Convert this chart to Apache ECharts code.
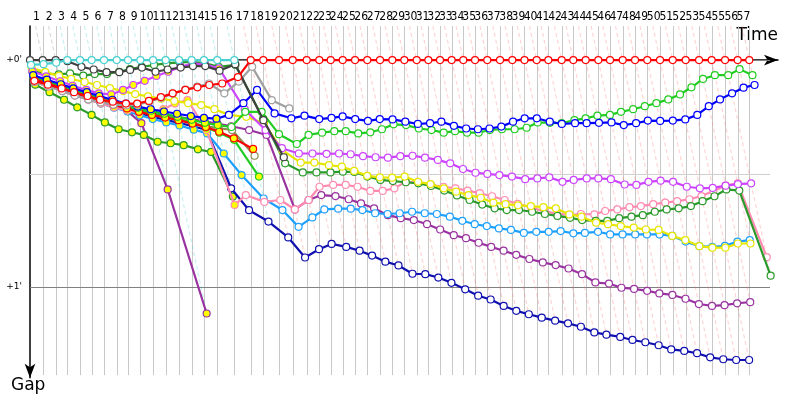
<!DOCTYPE html>
<html><head><meta charset="utf-8">
<script src="https://cdn.jsdelivr.net/npm/echarts@6/dist/echarts.min.js"></script>
<style>html,body{margin:0;padding:0;background:#fff}#c{width:800px;height:400px}</style>
</head><body><div id="c"></div>
<script>
// leader's race time (s) at the end of each lap (lap 0 = start)
const leaderTime = [0,15.9,32.1,46.6,62.5,77.1,92.5,108.4,122.5,137.9,153.8,169.6,186.3,202.1,217.5,234.1,255.4,275.9,291.6,311.3,328.4,345.9,361.6,375.9,390.9,406.3,421.6,437.5,452.9,467.9,483.4,497.9,512.5,527.1,541.6,556.3,571.6,587.5,602.9,618.1,633.4,647.9,664.6,679.1,694.6,710.4,725.0,740.9,756.3,771.6,787.5,803.4,819.6,836.3,852.1,868.8,884.6,899.1];
const lapLabels = leaderTime.slice(1).map((t, i) => String(i + 1));
const gapTicks = [0, 60];
const gapTickLabels = ["+0'", "+1'"];

// gaps to the leader (s), per lap from lap 0
const blackGaps = [0,0,0,0.3,1.8,2.5,3.2,3.2,2.6,2.0,3.1,2.5,2.0,1.6,1.6,2.8,1.1,15.9,25.7];
const cyanGaps = [1.3,1.1,0.7,0,0,0,0,0,0,0,0,0,0,0,0,0,0];
const redGaps = [5.5,6.5,7.5,8.5,9.5,10.5,11,11.5,11.5,10.8,9.8,8.8,7.9,7.2,6.6,6.2,4.5,0,0,0,0,0,0,0,0,0,0,0,0,0,0,0,0,0,0,0,0,0,0,0,0,0,0,0,0,0,0,0,0,0,0,0,0,0,0,0,0,0];
const greenGaps = [3.0,3.6,3.8,3.5,4.1,3.7,3.7,3.1,2.4,1.8,1.3,0.9,0.6,0.5,0.8,1.8,1.3,15.5,27.3,29.7,29.7,29.7,29.5,29.6,30.8,31.7,32.0,32.3,32.6,33.3,34.5,35.8,37.0,38.2,39.2,39.65,39.65,40.1,40.7,41.2,41.7,42.3,42.5,42.5,41.8,41.4,41.0,40.1,39.5,39.2,38.6,37.3,36.0,34.2,34.5,57.0];
const limeGaps = [4.2,5.4,6.6,7.8,8.8,9.8,10.8,11.8,12.6,13.4,14.2,15.0,15.8,16.6,17.2,17.7,13.7,13.7,19.6,22.2,19.8,19.2,18.8,18.8,19.4,19.1,18.3,17.0,17.2,18.1,18.5,19.2,18.8,19.2,19.2,18.5,18.3,18.3,17.9,16.5,16.6,16.7,15.9,15.4,14.7,14.5,13.7,13.0,12.2,11.4,10.4,9.1,7.2,5.0,4.0,4.0,2.4,4.0];
const blueGaps = [4.0,5.2,6.4,7.5,8.5,9.5,10.5,11.5,12.3,13.0,13.6,14.2,14.8,15.3,15.5,14.5,11.4,7.9,14.1,15.4,14.7,15.6,15.3,14.9,15.6,16.1,15.6,15.7,16.3,16.9,16.7,16.3,17.4,18.1,18.3,18.1,17.6,16.3,15.4,15.4,16.3,16.9,16.7,16.7,16.6,16.5,17.2,16.7,16.0,16.1,16.0,15.7,14.5,12.2,10.4,8.8,7.3,6.6];
const navyGaps = [5.0,6.3,7.6,8.8,10.0,11.0,12.0,13.0,14.0,15.0,15.8,16.6,17.5,18.5,33.9,39.7,42.7,46.9,52.2,50.0,48.6,49.4,50.4,51.7,53.3,54.3,56.5,56.6,57.5,58.9,60.6,62.3,63.3,65.0,66.3,67.2,68.1,68.9,69.6,70.5,72.0,72.6,73.2,74.0,74.6,75.4,76.5,76.9,77.5,78.6,79.1,79.3,79.3];
const skyGaps = [5.5,6.8,8.0,9.2,10.4,11.5,12.6,13.6,14.6,15.6,16.5,17.3,18.4,19.4,24.7,30.4,36.6,39.65,44.1,41.6,39.5,39.3,39.3,39.65,40.5,40.7,40.5,40.1,40.5,40.7,41.4,42.5,43.4,43.9,44.5,44.9,45.7,45.4,45.4,45.2,45.8,45.7,45.4,46.1,46.1,46.1,46.1,46.1,46.5,48.0,49.2,49.4,49.1,48.0,47.6];
const magentaGaps = [3.0,4.3,5.6,6.8,7.9,8.8,9.1,7.9,6.6,5.5,4.2,3.1,1.8,0.9,1.2,2.2,13.0,18.5,23.3,24.7,24.7,24.8,24.7,24.9,25.4,25.7,25.8,25.4,25.3,25.8,26.4,27.3,28.8,29.8,30.1,30.4,30.8,31.5,31.3,31.0,32.2,31.7,31.3,31.3,31.5,32.9,33.0,32.2,31.9,32.2,33.5,33.9,33.8,33.2,32.8,32.6];
const yellowGaps = [2.1,3.2,4.2,5.0,5.8,6.6,7.4,8.2,9.0,9.6,10.2,10.8,11.4,11.9,13.0,14.5,15.0,16.7,23.8,27.1,27.1,27.8,28.2,29.3,30.6,31.0,31.1,30.8,32.2,32.8,33.9,34.8,35.7,36.4,37.7,38.1,38.4,38.6,38.9,39.2,40.8,41.4,43.0,43.4,43.9,44.3,44.8,44.9,46.5,47.6,49.2,49.6,49.6,48.5,48.5];
const pinkGaps = [5.8,7.0,8.2,9.4,10.5,11.5,12.5,13.3,13.8,13.6,13.0,11.5,10.6,18.5,38.3,35.7,37.5,37.0,39.5,37.0,33.5,33.0,33.0,33.5,34.6,34.6,33.9,32.2,32.4,33.0,33.5,33.9,34.5,35.2,36.0,37.0,38.0,39.0,40.0,40.6,41.0,40.7,40.8,39.9,39.5,38.9,38.6,38.1,37.7,37.3,36.8,35.95,34.6,33.2,32.6,52.1];
const purpleGaps = [5.2,6.5,7.8,9.0,10.0,11.0,11.8,12.5,13.2,13.8,14.4,15.0,15.6,16.2,16.8,17.5,18.5,19.8,39.5,37.0,35.7,35.95,36.8,37.9,39.2,41.0,41.8,42.3,43.4,44.8,46.3,47.1,48.3,49.4,50.4,51.5,52.6,53.5,54.2,55.1,56.6,58.8,59.1,60.2,60.5,61.0,61.7,62.1,63.1,64.5,65.0,64.8,64.3,64.0];
const plumGaps = [5.3,6.6,7.9,9.1,10.2,11.3,12.4,13.5,16.7,34.2,67.0];
const grayGaps = [5.8,7.0,8.2,9.4,10.4,11.2,11.8,12.0,11.8,11.0,10.0,8.9,7.8,7.0,6.2,8.8,5.7,1.8,10.6,12.8];
const redYGaps = [5.0,6.2,7.4,8.6,9.8,10.8,11.8,12.8,13.7,14.5,15.2,15.9,16.8,17.7,18.95,20.7,23.5];
const oliveGaps = [4.8,6.0,7.2,8.4,9.6,10.6,11.6,12.5,13.3,14.1,14.9,15.7,16.6,17.5,18.0,18.5,25.3];
const limeYGaps = [4.5,5.8,7.0,8.2,9.3,10.3,11.3,12.3,13.2,14.0,14.8,15.6,16.6,17.8,19.2,21.1,30.8];
const greenYGaps = [6.5,8.5,10.5,12.5,14.5,16.5,18.3,19.1,19.8,21.6,22.0,22.5,23.6,24.3,36.1];

const cars = [
  {gaps: plumGaps, color: '#9933a0', yellowTo: 99},
  {gaps: greenYGaps, color: '#2a9a2a', yellowTo: 99},
  {gaps: navyGaps, color: '#1010b0', yellowTo: 13},
  {gaps: purpleGaps, color: '#9933a0', yellowTo: 15},
  {gaps: skyGaps, color: '#1ea0ff', yellowTo: 15},
  {gaps: pinkGaps, color: '#ff8cb0', yellowTo: 14},
  {gaps: oliveGaps, color: '#8c8c50', yellowTo: -1},
  {gaps: limeYGaps, color: '#22cc22', yellowTo: 99},
  {gaps: redYGaps, color: '#ff0000', yellowTo: 99},
  {gaps: greenGaps, color: '#2a9a2a', yellowTo: -1},
  {gaps: yellowGaps, color: '#e6e600', yellowTo: -1},
  {gaps: magentaGaps, color: '#cc44ff', yellowTo: 15},
  {gaps: limeGaps, color: '#22cc22', yellowTo: 14},
  {gaps: blueGaps, color: '#0000ff', yellowTo: 14},
  {gaps: grayGaps, color: '#a0a0a0', yellowTo: -1},
  {gaps: blackGaps, color: '#404040', yellowTo: -1},
  {gaps: cyanGaps, color: '#48d0d0', yellowTo: -1},
  {gaps: redGaps, color: '#ff0000', yellowTo: -1}
];

const Y_TOP = -9, Y_BOTTOM = 83.3, X_RIGHT = 925;

// leader and deepest gap per lap (for the equal-lap lines)
const lapLines = [];
for (let n = 1; n < leaderTime.length; n++) {
  let leader = null, maxG = 0;
  cars.forEach(c => {
    if (n < c.gaps.length) {
      const g = c.gaps[n];
      if (g === 0 && !leader) leader = c.color;
      if (g > maxG) maxG = g;
    }
  });
  lapLines.push({leader: leader || '#404040', maxG});
}
const fadeColors = {'#ff0000': 'rgba(255,120,120,0.62)', '#48d0d0': 'rgba(72,208,208,0.6)', '#404040': 'rgba(110,110,110,0.5)'};

const series = [];
series.push({
  type: 'custom', z: 1, silent: true, clip: false,
  data: leaderTime.slice(1).map(t => [t]),
  renderItem: (p, api) => {
    const a = api.coord([api.value(0), Y_TOP]), b = api.coord([api.value(0), Y_BOTTOM]);
    const x = Math.round(a[0]) + 0.5;
    return {type: 'line', shape: {x1: x, y1: a[1], x2: x, y2: b[1]}, style: {stroke: '#c8c8c8', lineWidth: 1}};
  }
});
series.push({
  type: 'custom', z: 1, silent: true, clip: false,
  data: [[0, 0], [30, 1], [60, 0]],
  renderItem: (p, api) => {
    const a = api.coord([0, api.value(0)]), b = api.coord([X_RIGHT, api.value(0)]);
    const y = Math.round(a[1]) + 0.5;
    return {type: 'line', shape: {x1: a[0], y1: y, x2: b[0], y2: y}, style: {stroke: api.value(1) ? '#cfcfcf' : '#808080', lineWidth: 1}};
  }
});
series.push({
  type: 'lines', coordinateSystem: 'cartesian2d', z: 2, silent: true,
  data: lapLines.map((l, i) => ({
    coords: [[leaderTime[i + 1] + Y_TOP, Y_TOP], [leaderTime[i + 1] + l.maxG, l.maxG]],
    lineStyle: {color: fadeColors[l.leader] || 'rgba(150,150,150,0.5)'}
  })),
  lineStyle: {type: [4, 3], width: 1.2}
});
cars.forEach((c, k) => {
  series.push({
    type: 'line', z: 3 + k, symbol: 'circle', symbolSize: 7, showAllSymbol: true,
    lineStyle: {color: c.color, width: 2.2},
    itemStyle: {color: '#fff', borderColor: c.color, borderWidth: 1.2},
    data: c.gaps.map((g, lap) => ({
      value: [leaderTime[lap] + g, g],
      itemStyle: {color: lap <= c.yellowTo ? '#ffff00' : '#ffffff', borderColor: c.color}
    }))
  });
});
series.push({
  type: 'custom', z: 40, silent: true, clip: false,
  data: lapLabels.map((s, i) => [(leaderTime[i] + leaderTime[i + 1]) / 2]),
  renderItem: (p, api) => {
    const a = api.coord([api.value(0), Y_TOP]);
    return {type: 'text', x: a[0], y: a[1] - 3, style: {text: lapLabels[p.dataIndex], fill: '#000', font: '12px "DejaVu Sans Condensed", "DejaVu Sans"', align: 'center', verticalAlign: 'bottom'}};
  }
});
series.push({
  type: 'custom', z: 40, silent: true, clip: false,
  data: gapTicks.map(v => [v]),
  renderItem: (p, api) => {
    const a = api.coord([0, api.value(0)]);
    return {type: 'text', x: a[0] - 8, y: a[1], style: {text: gapTickLabels[p.dataIndex], fill: '#000', font: '9px "DejaVu Sans"', align: 'right', verticalAlign: 'middle'}};
  }
});

const chart = echarts.init(document.getElementById('c'), null, {renderer: 'canvas'});
chart.setOption({
  animation: false,
  grid: {left: 30, right: 22, top: 26, bottom: 22.2},
  xAxis: {type: 'value', position: 'top', min: 0, max: 935,
    axisLine: {show: true, lineStyle: {color: '#000', width: 1.5}, symbol: ['none', 'arrow'], symbolSize: [8, 14]},
    axisTick: {show: false}, axisLabel: {show: false}, splitLine: {show: false}},
  yAxis: {type: 'value', inverse: true, min: Y_TOP, max: 84,
    axisLine: {show: true, lineStyle: {color: '#000', width: 1.5}, symbol: ['arrow', 'none'], symbolSize: [8, 14]},
    axisTick: {show: false}, axisLabel: {show: false}, splitLine: {show: false}},
  graphic: [
    {type: 'text', right: 22, top: 27, style: {text: 'Time', font: '17px "DejaVu Sans"', fill: '#000'}},
    {type: 'text', left: 11, top: 377, style: {text: 'Gap', font: '17px "DejaVu Sans"', fill: '#000'}}
  ],
  series
});
</script></body></html>
